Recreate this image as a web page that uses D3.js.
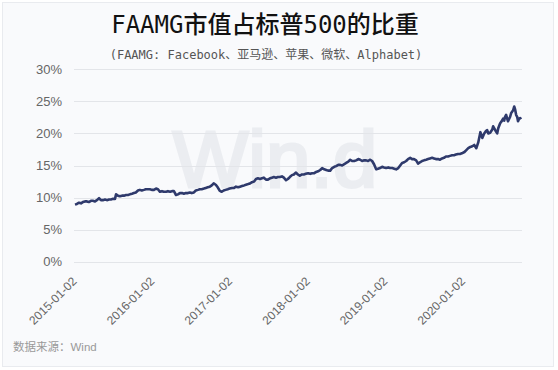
<!DOCTYPE html>
<html><head><meta charset="utf-8">
<script src="https://cdn.jsdelivr.net/npm/d3@7"></script>
<style>html,body{margin:0;padding:0;background:#fff;}svg{display:block;}</style>
</head><body>
<script>
const titleText = "FAAMG市值占标普500的比重";
const subtitleText = "(FAAMG: Facebook、亚马逊、苹果、微软、Alphabet)";
const sourceText = "数据来源：Wind";
const yTicks = [0, 5, 10, 15, 20, 25, 30];
const xTickLabels = ["2015-01-02","2016-01-02","2017-01-02","2018-01-02","2019-01-02","2020-01-02"];
const dates = [
"2015-01-02","2015-01-11","2015-01-21","2015-01-30","2015-02-08","2015-02-18","2015-02-27","2015-03-08","2015-03-18","2015-03-27",
"2015-04-06","2015-04-15","2015-04-25","2015-05-04","2015-05-13","2015-05-23","2015-06-01","2015-06-11","2015-06-20","2015-06-30",
"2015-07-09","2015-07-14","2015-07-23","2015-08-01","2015-08-11","2015-08-20","2015-08-30","2015-09-08","2015-09-17","2015-09-27",
"2015-10-06","2015-10-15","2015-10-25","2015-11-03","2015-11-12","2015-11-22","2015-12-01","2015-12-10","2015-12-20","2015-12-29",
"2016-01-08","2016-01-18","2016-01-27","2016-02-05","2016-02-15","2016-02-24","2016-03-05","2016-03-14","2016-03-24","2016-04-02",
"2016-04-11","2016-04-21","2016-04-30","2016-05-09","2016-05-19","2016-05-28","2016-06-06","2016-06-16","2016-06-25","2016-07-04",
"2016-07-14","2016-07-23","2016-08-02","2016-08-11","2016-08-20","2016-08-30","2016-09-08","2016-09-17","2016-09-27","2016-10-06",
"2016-10-15","2016-10-25","2016-11-03","2016-11-12","2016-11-22","2016-12-01","2016-12-10","2016-12-20","2016-12-29",
"2017-01-10","2017-01-19","2017-01-28","2017-02-07","2017-02-16","2017-02-25","2017-03-07","2017-03-16","2017-03-26","2017-04-04",
"2017-04-13","2017-04-23","2017-05-02","2017-05-11","2017-05-21","2017-05-30","2017-06-08","2017-06-18","2017-06-27","2017-07-07",
"2017-07-16","2017-07-25","2017-08-04","2017-08-13","2017-08-22","2017-09-01","2017-09-10","2017-09-20","2017-09-29","2017-10-08",
"2017-10-18","2017-10-27","2017-11-05","2017-11-15","2017-11-24","2017-12-04","2017-12-13","2017-12-22",
"2018-01-02","2018-01-12","2018-01-21","2018-01-31","2018-02-09","2018-02-18","2018-02-28","2018-03-09","2018-03-19","2018-03-28",
"2018-04-06","2018-04-16","2018-04-25","2018-05-05","2018-05-14","2018-05-24","2018-06-02","2018-06-11","2018-06-21","2018-06-30",
"2018-07-10","2018-07-19","2018-07-28","2018-08-07","2018-08-16","2018-08-26","2018-09-04","2018-09-13","2018-09-23","2018-10-02",
"2018-10-11","2018-10-21","2018-10-30","2018-11-08","2018-11-18","2018-11-27","2018-12-06","2018-12-16","2018-12-25",
"2019-01-04","2019-01-14","2019-01-23","2019-02-02","2019-02-11","2019-02-20","2019-03-02","2019-03-11","2019-03-20","2019-03-30",
"2019-04-08","2019-04-17","2019-04-27","2019-05-06","2019-05-15","2019-05-25","2019-06-03","2019-06-12","2019-06-22","2019-07-01",
"2019-07-11","2019-07-20","2019-07-29","2019-08-08","2019-08-17","2019-08-26","2019-09-05","2019-09-14","2019-09-24","2019-10-03",
"2019-10-12","2019-10-22","2019-10-31","2019-11-10","2019-11-19","2019-11-28","2019-12-08","2019-12-17","2019-12-26",
"2020-01-07","2020-01-16","2020-01-25","2020-02-04","2020-02-13","2020-02-22","2020-03-03","2020-03-12","2020-03-22","2020-03-26",
"2020-03-31","2020-04-09","2020-04-18","2020-04-23","2020-04-28","2020-05-07","2020-05-17","2020-05-21","2020-05-31","2020-06-09",
"2020-06-14","2020-06-23","2020-07-02","2020-07-07","2020-07-12","2020-07-16","2020-07-21","2020-07-26","2020-07-30","2020-08-09",
"2020-08-14","2020-08-23","2020-08-28","2020-09-01","2020-09-06","2020-09-11","2020-09-15","2020-09-20","2020-09-25","2020-09-29"
];
const shares = [
8.9,9.0,9.2,9.1,9.3,9.4,9.4,9.3,9.5,9.5,
9.4,9.6,9.9,9.6,9.6,9.7,9.6,9.7,9.7,9.8,
9.8,10.5,10.3,10.2,10.3,10.3,10.4,10.4,10.5,10.6,
10.7,10.8,11.1,11.2,11.1,11.2,11.3,11.3,11.3,11.2,
11.2,11.4,11.3,10.9,11.0,10.9,10.9,11.0,10.9,11.0,
11.0,10.4,10.5,10.7,10.7,10.6,10.7,10.7,10.8,10.7,
10.8,11.1,11.2,11.3,11.3,11.4,11.5,11.6,11.7,11.9,
12.2,12.0,11.6,11.1,10.9,11.1,11.2,11.3,11.4,
11.5,11.5,11.7,11.6,11.7,11.8,11.9,12.0,12.1,12.2,
12.4,12.5,12.9,13.0,12.9,13.0,13.1,12.8,12.8,13.0,
13.1,13.2,13.1,13.2,13.2,13.3,13.1,12.7,12.9,13.2,
13.5,13.6,13.9,13.6,13.4,13.6,13.6,13.7,
13.8,13.7,13.8,13.8,14.0,14.1,14.3,14.6,14.4,14.3,
14.2,14.2,14.6,14.8,14.9,15.1,15.1,15.0,15.2,15.4,
15.6,15.9,15.7,15.7,15.8,16.0,15.9,15.7,15.8,15.8,
15.7,15.9,15.7,15.2,14.4,14.5,14.6,14.8,14.7,
14.6,14.7,14.6,14.6,14.5,14.4,14.6,15.0,15.4,15.5,
15.7,16.0,16.2,16.0,16.0,15.8,15.3,15.5,15.7,15.8,
15.9,16.0,16.1,16.2,16.1,16.0,16.0,15.9,16.1,16.2,
16.4,16.4,16.5,16.6,16.6,16.7,16.8,16.8,16.9,
17.1,17.4,17.7,17.9,18.0,18.2,17.7,18.6,20.2,19.8,
19.3,20.0,20.4,20.5,20.0,20.1,20.6,21.1,20.5,20.0,
20.8,21.6,22.0,22.3,22.0,22.6,22.9,22.3,21.9,22.6,
23.2,23.6,24.2,23.8,22.9,22.6,21.9,22.3,22.4,22.2
];

const W = 558, H = 370;
const parse = d3.timeParse("%Y-%m-%d");
const data = dates.map((d, i) => ({date: parse(d), v: shares[i]}));

const svg = d3.select("body").append("svg").attr("width", W).attr("height", H);

// panel
svg.append("rect").attr("x", 2.5).attr("y", 2.5).attr("width", 551).attr("height", 364)
  .attr("fill", "#f9fafc").attr("stroke", "#e9ebef");

const x = d3.scaleTime().domain([parse(dates[0]), parse(dates[dates.length - 1])]).range([75, 521]);
const y = d3.scaleLinear().domain([0, 30]).range([261.7, 69.3]);

// watermark
svg.append("text").attr("x", 275).attr("y", 187).attr("text-anchor", "middle")
  .attr("font-family", "Liberation Sans, Arial, sans-serif").attr("font-size", 80)
  .attr("fill", "#ebedf1").attr("stroke", "#ebedf1").attr("stroke-width", 3)
  .text("Win.d");

// grid
svg.append("g").selectAll("line").data(yTicks).join("line")
  .attr("x1", 74).attr("x2", 522)
  .attr("y1", d => Math.round(y(d)) + 0.5).attr("y2", d => Math.round(y(d)) + 0.5)
  .attr("stroke", "#e3e5e9").attr("stroke-width", 1);

// y labels
svg.append("g").selectAll("text").data(yTicks).join("text")
  .attr("x", 62).attr("y", d => y(d)).attr("dy", "0.35em").attr("text-anchor", "end")
  .attr("font-family", "Liberation Sans, Arial, sans-serif").attr("font-size", 13)
  .attr("fill", "#666").text(d => d + "%");

// x axis labels
const xAxis = d3.axisBottom(x).tickValues(xTickLabels.map(parse)).tickSize(0)
  .tickFormat(d3.timeFormat("%Y-%m-%d"));
const gx = svg.append("g").attr("transform", "translate(0,282)").call(xAxis);
gx.select(".domain").remove();
gx.selectAll("text")
  .attr("font-family", "Liberation Sans, Arial, sans-serif").attr("font-size", 12)
  .attr("fill", "#666").attr("text-anchor", "end")
  .attr("y", 0).attr("dy", 0).attr("x", 0)
  .attr("transform", "translate(2,0) rotate(-45)");

// line
const line = d3.line().x(d => x(d.date)).y(d => y(d.v));
svg.append("path").datum(data).attr("d", line).attr("fill", "none")
  .attr("stroke", "#2f3a6c").attr("stroke-width", 2.6).attr("stroke-linejoin", "round");

// title
svg.append("text").attr("x", 265).attr("y", 33).attr("text-anchor", "middle")
  .attr("font-family", "DejaVu Sans Mono, Noto Sans CJK SC, sans-serif").attr("font-size", 24)
  .attr("font-weight", 500).attr("fill", "#111").text(titleText);
svg.append("text").attr("x", 266).attr("y", 59).attr("text-anchor", "middle")
  .attr("font-family", "DejaVu Sans Mono, Noto Sans CJK SC, sans-serif").attr("font-size", 12)
  .attr("fill", "#555").text(subtitleText);

// source
svg.append("text").attr("x", 13).attr("y", 351)
  .attr("font-family", "Liberation Sans, Noto Sans CJK SC, sans-serif").attr("font-size", 11.5)
  .attr("fill", "#999").text(sourceText);
</script>
</body></html>
